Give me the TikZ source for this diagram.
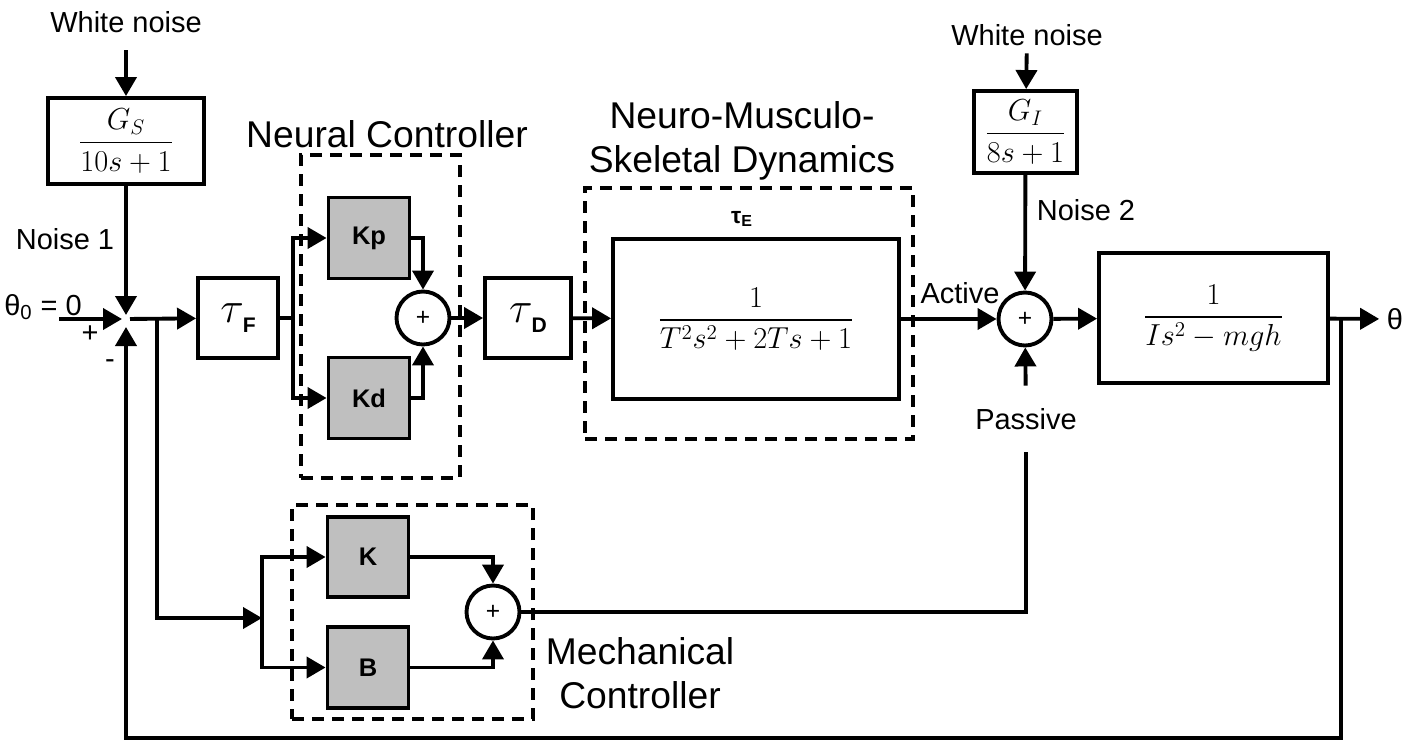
\documentclass[tikz,border=0pt]{standalone}
\usepackage{amsmath}
\usepackage{fontspec}
\setmainfont{Liberation Sans}
\usetikzlibrary{arrows.meta,positioning}

\newcommand{\tausub}[1]{{\fontsize{26}{28}\selectfont$\tau$}\kern-0.5pt\raisebox{-5.5pt}{\fontsize{12}{13}\selectfont\bfseries #1}}

\begin{document}
\begin{tikzpicture}[x=0.02cm, y=-0.02cm, line width=2.2pt,
        >={Triangle[length=0.38cm,width=0.42cm]},
        every node/.style={font=\fontsize{16.5}{19}\selectfont},
        block/.style={draw, rectangle, fill=white, inner sep=0pt},
        gain/.style={block, fill=gray!50, minimum width=1.62cm, minimum height=1.62cm, font=\fontsize{14.5}{17}\selectfont\bfseries},
        sumnode/.style={draw, circle, fill=white, minimum size=1.06cm, inner sep=0pt, font=\fontsize{14}{16}\selectfont},
        group/.style={draw, dash pattern=on 0.24cm off 0.16cm, line width=2pt, inner sep=0pt},
        title/.style={font=\fontsize{21.2}{25}\selectfont, align=center},
        frac/.style={font=\fontsize{17}{20}\selectfont}]
        \fill[white] (0,0) rectangle (1416,744);
        \useasboundingbox (0,0) rectangle (1416,744);

        % Group frames
        \node[group, minimum width=3.18cm, minimum height=6.46cm] (nc) at (380.5,316.5) {};
        \node[group, minimum width=6.56cm, minimum height=5.02cm] (nms) at (749,313.5) {};
        \node[group, minimum width=4.82cm, minimum height=4.28cm] (mc) at (412.5,612) {};
        \node[title] (ncT) at (387,134) {Neural Controller};
        \node[title] (nmsT) at (742,141) {Neuro-Musculo-\\Skeletal Dynamics};
        \node[title] (mcT) at (640,673) {Mechanical\\Controller};

        % Input side
        \node (wn1) at (126,22) {White noise};
        \node[block, minimum width=3.12cm, minimum height=1.72cm, frac] (gs) at (126,141) {$\dfrac{G_S}{10s+1}$};
        \node (noise1) at (65,239) {Noise 1};
        \node (theta0) at (43,307) {θ\textsubscript{0} = 0};
        \node (plus) at (90,334) {+};
        \node (minus) at (110,364) {-};
        \coordinate (in0) at (59,319);
        \coordinate (j0) at (126,319);
        \coordinate (brF) at (157,319);
        \node[block, minimum width=1.6cm, minimum height=1.6cm] (tauF) at (238,318) {\tausub{F}};

        % Neural controller
        \coordinate (brN) at (293,318);
        \node[gain] (kp) at (369,238) {Kp};
        \node[gain] (kd) at (369,398) {Kd};
        \node[sumnode] (sumN) at (423,318) {+};
        \node[block, minimum width=1.72cm, minimum height=1.6cm] (tauD) at (528,318) {\tausub{D}};

        % Neuro-musculo-skeletal dynamics
        \node[block, minimum width=5.72cm, minimum height=3.2cm, frac] (musc) at (756,319) {$\dfrac{1}{T^2s^2+2Ts+1}$};
        \node[font=\fontsize{13}{15}\selectfont\bfseries] (tauE) at (742,219) {τ\textsubscript{E}};

        % Plant side
        \node (wn2) at (1027,35) {White noise};
        \node[block, minimum width=2.06cm, minimum height=1.64cm, frac] (gi) at (1025.5,132) {$\dfrac{G_I}{8s+1}$};
        \node (noise2) at (1086,210) {Noise 2};
        \node[sumnode] (sumP) at (1025,319) {+};
        \node (active) at (960,293) {Active};
        \node[minimum height=1.26cm] (passive) at (1026,419) {Passive};
        \node[block, minimum width=4.58cm, minimum height=2.6cm, frac] (plant) at (1213.5,318) {$\dfrac{1}{Is^2-mgh}$};
        \node (theta) at (1395,319) {θ};
        \coordinate (brP) at (1341,318);
        \coordinate (fbL) at (126,738);

        % Mechanical controller
        \coordinate (brM) at (262,618);
        \node[gain, minimum height=1.6cm] (kk) at (368,557) {K};
        \node[gain] (bb) at (368,667.5) {B};
        \node[sumnode] (sumM) at (493,612) {+};

        % Forward path
        \draw[->, shorten <=0.2cm] (wn1) -- (gs);
        \draw[->, shorten >=0.08cm] (gs) -- (j0);
        \draw[->, shorten >=0.08cm] (in0) -- (j0);
        \draw[->, shorten <=0.08cm] (j0) -- (tauF);
        \draw (tauF) -- (brN);
        \draw[->] (brN) |- (kp);
        \draw[->] (brN) |- (kd);
        \draw[->] (kp) -| (sumN);
        \draw[->] (kd) -| (sumN);
        \draw[->] (sumN) -- (tauD);
        \draw[->] (tauD) -- (musc);
        \draw[->] (musc) -- (sumP);
        \draw[->] (wn2) -- (gi);
        \draw[->] (gi) -- (sumP);
        \draw[->] (sumP) -- (plant);
        \draw[->] (plant) -- (theta);

        % Mechanical branch
        \draw[->] (brF) |- (brM);
        \draw[->] (brM) |- (kk);
        \draw[->] (brM) |- (bb);
        \draw[->] (kk) -| (sumM);
        \draw[->] (bb) -| (sumM);
        \draw (sumM) -| (passive);
        \draw[->] (passive) -- (sumP);

        % Feedback
        \draw[->, shorten >=0.16cm] (brP) |- (fbL) -- (j0);
    \end{tikzpicture}
\end{document}
